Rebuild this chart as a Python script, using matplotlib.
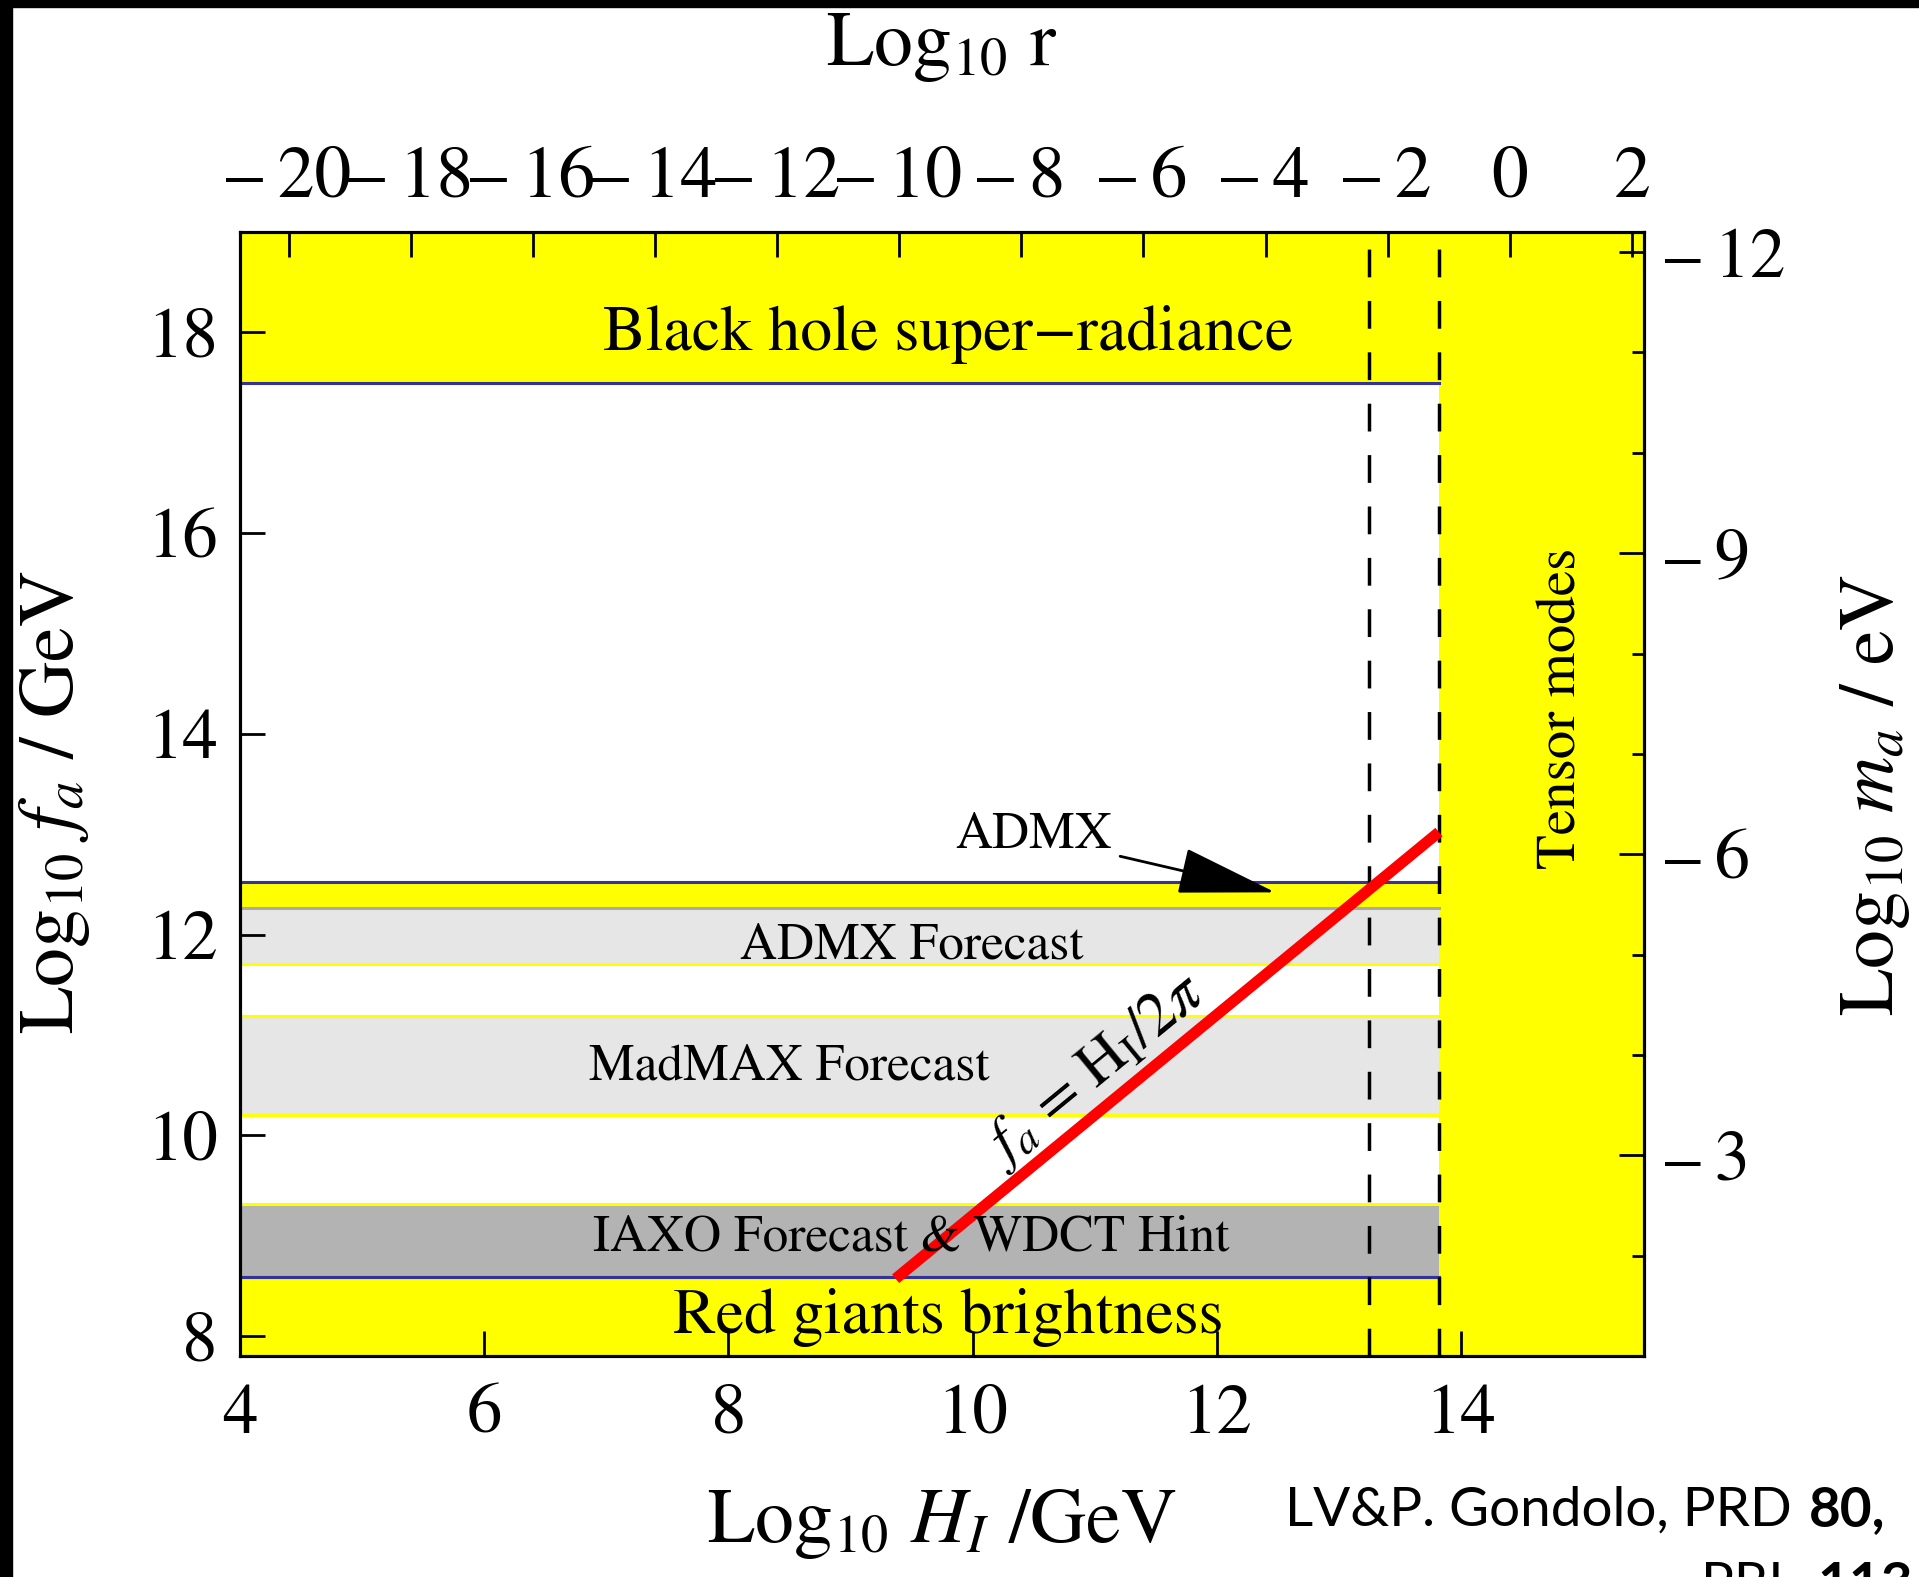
import matplotlib
matplotlib.use('Agg')
import numpy as np
import matplotlib.pyplot as plt
from matplotlib.patches import Rectangle
from matplotlib.ticker import MultipleLocator, FuncFormatter

plt.rcParams['font.family'] = ['STIXGeneral', 'DejaVu Serif']
plt.rcParams['mathtext.fontset'] = 'stix'

# axis ranges (Log10 H_I / GeV, Log10 f_a / GeV)
H_lim = (4.0, 15.5)
f_lim = (7.8, 19.0)

# tensor modes exclusion starts here, dashed guides
tensor_H = 13.82
dashed_H = [13.25, 13.82]

# horizontal bands: name, f low, f high, face, top edge, bottom edge
band_names = ['Black hole super\u2212radiance', 'ADMX', 'ADMX Forecast',
              'MadMAX Forecast', 'IAXO Forecast & WDCT Hint', 'Red giants brightness']
band_lo = [17.5, 12.26, 11.71, 10.20, 8.59, 7.8]
band_hi = [19.0, 12.52, 12.26, 11.19, 9.31, 8.59]
band_face = ['#ffff00', '#ffff00', '#e6e6e6', '#e6e6e6', '#b3b3b3', '#ffff00']
band_top = [None, '#33339a', '#aaaaaa', '#ffff00', '#ffff00', '#33339a']
band_bot = ['#33339a', None, '#ffff00', '#ffff00', '#33339a', None]

# band label positions (H, f) and sizes
label_H = [9.8, None, 9.5, 8.5, 9.5, 9.8]
label_f = [17.98, None, 11.88, 10.68, 8.97, 8.18]
label_size = [46, None, 37, 37, 37, 46]

# f_a = H_I / 2pi line endpoints
line_H = [9.37, 13.82]
line_f = [8.57, 13.02]

# secondary axes relations
r_offset = -28.8   # Log10 r = 2 Log10 H_I + r_offset
m_offset = 6.8     # Log10 m_a = m_offset - Log10 f_a


def minus_fmt(v, pos):
    v = int(round(v))
    return ('\u2013\u2009' if v < 0 else '') + str(abs(v))


fig = plt.figure(figsize=(19.19, 15.77), dpi=100)
ax = fig.add_axes([240/1919, 1 - 1356/1577, 1404/1919, 1124/1577])
ax.set_xlim(*H_lim)
ax.set_ylim(*f_lim)

for i in range(len(band_names)):
    ax.add_patch(Rectangle((H_lim[0], band_lo[i]), tensor_H - H_lim[0], band_hi[i] - band_lo[i],
                           facecolor=band_face[i], edgecolor='none', zorder=1))
    if band_top[i]:
        ax.plot([H_lim[0], tensor_H], [band_hi[i]] * 2, color=band_top[i], lw=2.2, zorder=2)
    if band_bot[i]:
        ax.plot([H_lim[0], tensor_H], [band_lo[i]] * 2, color=band_bot[i], lw=2.2, zorder=2)
    if label_H[i] is not None:
        ax.text(label_H[i], label_f[i], band_names[i], ha='center', va='center',
                fontsize=label_size[i], zorder=5)

ax.add_patch(Rectangle((tensor_H, f_lim[0]), H_lim[1] - tensor_H, f_lim[1] - f_lim[0],
                       facecolor='#ffff00', edgecolor='none', zorder=1))
ax.text(14.83, 14.25, 'Tensor modes', rotation=90, ha='center', va='center', fontsize=41, zorder=5)

for h in dashed_H:
    ax.axvline(h, color='black', lw=2.5, dashes=(8, 6.8), zorder=3)

ax.plot(line_H, line_f, color='#ff0000', lw=8, solid_capstyle='butt', zorder=4)
ax.text(11.01, 10.64, r'$f_a$ = H$_\mathrm{I}$/2$\pi$', rotation=39.4, rotation_mode='anchor',
        ha='center', va='center', fontsize=44, zorder=5)

ax.annotate('ADMX', xy=(12.48, 12.42), xytext=(10.5, 12.98), ha='center', va='center',
            fontsize=37, zorder=5,
            arrowprops=dict(arrowstyle='-|>,head_length=1.7,head_width=0.4', color='black',
                            lw=2, shrinkA=4, shrinkB=0))

ax.xaxis.set_major_locator(MultipleLocator(2))
ax.yaxis.set_major_locator(MultipleLocator(2))
ax.tick_params(direction='in', length=18, width=2, labelsize=51)
ax.tick_params(axis='x', pad=20, top=False)
ax.tick_params(axis='y', pad=16, right=False)

top = ax.twiny()
top.set_xlim(2*H_lim[0] + r_offset, 2*H_lim[1] + r_offset)
top.xaxis.set_major_locator(MultipleLocator(2))
top.xaxis.set_major_formatter(FuncFormatter(minus_fmt))
top.tick_params(direction='in', length=18, width=2, labelsize=53, pad=14)

right = ax.twinx()
right.set_ylim(m_offset - f_lim[0], m_offset - f_lim[1])
right.yaxis.set_major_locator(MultipleLocator(3))
right.yaxis.set_minor_locator(MultipleLocator(1))
right.yaxis.set_major_formatter(FuncFormatter(minus_fmt))
right.tick_params(which='major', direction='in', length=18, width=2, labelsize=51, pad=15)
right.tick_params(which='minor', direction='in', length=9, width=2)

for a in (ax, top, right):
    for s in a.spines.values():
        s.set_linewidth(2.2)
        s.set_zorder(6)

fig.text(55/1919, 1 - 802/1577, r'Log$_{10}$ $f_a$ / GeV', rotation=90, ha='center', va='center', fontsize=56)
fig.text(1875/1919, 1 - 795/1577, r'Log$_{10}$ $m_a$ / eV', rotation=90, ha='center', va='center', fontsize=56)
fig.text(942/1919, 1 - 1524/1577, r'Log$_{10}$ $H_I$ /GeV', ha='center', va='center', fontsize=56)
fig.text(942/1919, 1 - 47/1577, r'Log$_{10}$ r', ha='center', va='center', fontsize=56)

# citation (cut at the slide edge)
cite_font = 'Lato'
c1 = fig.text(1285/1919, 1 - 1526/1577, 'LV&P. Gondolo, PRD', family=cite_font, fontsize=44, va='baseline')
fig.canvas.draw()
w = c1.get_window_extent().width
c1.set_fontsize(44 * 508 / w)
fig.text(1809/1919, 1 - 1526/1577, '80,', family=cite_font, weight='bold',
         fontsize=c1.get_fontsize(), va='baseline')
fig.text(1701/1919, 1 - 1601/1577, 'PRL', family=cite_font, fontsize=c1.get_fontsize(), va='baseline')
fig.text(1817/1919, 1 - 1601/1577, '113,', family=cite_font, weight='bold',
         fontsize=c1.get_fontsize(), va='baseline')

# black slide border at top and left
fig.patches.append(Rectangle((0, 1 - 7/1577), 1, 7/1577, transform=fig.transFigure, color='black'))
fig.patches.append(Rectangle((0, 0), 12/1919, 1, transform=fig.transFigure, color='black'))

fig.savefig('out.png', dpi=100)
